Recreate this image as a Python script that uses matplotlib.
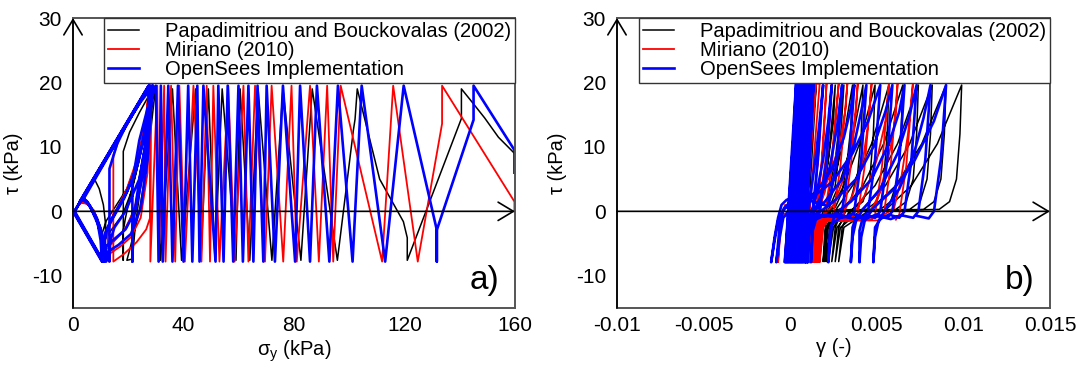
import matplotlib
matplotlib.use("Agg")
import matplotlib.pyplot as plt

plt.rcParams['font.family'] = ['Liberation Sans', 'DejaVu Sans']
plt.rcParams['mathtext.fontset'] = 'custom'
plt.rcParams['mathtext.rm'] = 'Liberation Sans'
plt.rcParams['axes.unicode_minus'] = False

labels = ["Papadimitriou and Bouckovalas (2002)", "Miriano (2010)", "OpenSees Implementation"]
colors = ["#000000", "#ff0000", "#0000ff"]

# ---------------- panel a : stress path (sigma_y, tau) ----------------
black_a = [(0, 0), (1.5, 0.6), (4, 2.6), (6.5, 4.3), (8, 4.8), (9.5, 3.5), (11, 1.0), (11.8, -2), (11.6, -7.6),
           (11.4, -4.5), (14, -2.8), (18, -0.5), (21.5, 3.5), (24.5, 9), (27, 15), (28.3, 19.0),
           (26.5, 14), (23.5, 8), (19.5, 3.5), (15, 0.5), (12, -1.5), (10.5, -3.5), (10.8, -7.6),
           (11.2, -5.5), (15, -4.5), (19.5, -2.5), (23, 1.5), (26, 8.5), (28.2, 15), (29.0, 19.0),
           (27, 14), (24, 8), (21, 3), (19, -1), (18.2, -3), (18.2, -7.6),
           (18.2, 9.3), (20.5, 12.3), (24, 15.3), (27.5, 18), (29.3, 19.0),
           (27, 12), (24.5, 4), (22.5, -2.5), (21.5, -7.4), (19.5, -7.6),
           (20.5, -6), (24, 0), (27, 8), (29.8, 19.0),
           (31.7, -7.6), (36, 19.0), (39.3, -7.6), (44.4, 19.0), (46.3, -7.6), (49, 19.0), (51.4, -7.6),
           (54, 19.0), (59, -7.6), (60.5, 19.0), (64, -7.6), (67, 19.0), (72, -7.6), (76, 19.0),
           (82.5, -7.6), (86.6, 19.0), (95.7, -7.6), (101.5, 12.6), (102.1, 14.3), (102.9, 19.0),
           (111, 5), (119.6, -1.6), (121, -4.1), (121, -7.6), (140.6, 14.4), (140.6, 19.0),
           (144, 17.2), (149, 14.5), (154, 11.5), (159.8, 9.0)]

red_a = [(0, 0), (10.5, -7.8),
         (10.2, -4.5), (9.3, -1.8), (7.5, 0.2), (5, 1.2), (3, 1.3), (1.8, 0.9), (27.3, 19.5),
         (1.3, 0.5), (0.5, 0), (10.4, -7.8),
         (10.1, -4), (8.8, -1.2), (6.5, 0.6), (4.2, 1.5), (2.4, 1.2), (27.5, 19.5),
         (1.2, 0.45), (0.6, 0), (10.6, -7.8),
         (10.3, -5), (9.6, -2.4), (8, -0.4), (5.5, 1.0), (3.4, 1.6), (27.4, 19.5),
         (26.8, 15.5), (25, 10.5), (22, 5.5), (18, 1.8), (14, -1), (11.5, -3.5), (10.8, -5), (11.2, -7.8),
         (11.5, -6), (14.5, -4.8), (18.5, -3), (22, 0), (25, 5.5), (27, 12.5), (27.7, 19.5),
         (26.2, 14), (23.5, 8.5), (19.5, 3.5), (16, 0.5), (13, -2), (12.5, -4), (13.0, -7.8),
         (13.5, -6.5), (17, -5.5), (21, -4), (24.5, -1), (27, 6), (28, 19.5),
         (27.9, -1), (26.5, -2.8), (23, -4.8), (18.5, -6.6), (14.6, -7.8),
         (14.6, 8.7), (17, 11.5), (21, 14.5), (25, 17.5), (28.2, 19.5),
         (28.0, -7.8), (30.5, 19.5), (31.0, -7.8), (33.0, 19.5), (33.5, -7.8), (35.5, 19.5), (37, -7.8),
         (38.5, 19.5), (40.5, -7.8), (43.6, 19.5), (46.5, -7.8), (48.4, 19.5), (49.6, -7.8), (50.8, 19.5),
         (53, -7.8), (56.2, 19.5), (58.5, -7.8), (61.7, 19.5), (63.5, -7.8), (65.9, 19.5), (69.5, -7.8),
         (71.9, 19.5), (76.1, -7.8), (79.1, 19.5), (81, -7.8), (85.8, 19.5), (89, -7.8), (92, 19.5),
         (94.2, -7.8), (96.9, 19.5), (111.9, -7.8), (115.9, 19.5), (124.8, -7.8), (133.6, 13.6),
         (133.6, 19.5), (159.8, 1.5), (159.8, 0)]

blue_a = [(0, 0), (10.5, -7.8),
          (10.0, -4.5), (9.0, -2.0), (7.0, 0.0), (5.0, 1.6), (3.5, 2.0), (2.3, 1.4), (27.4, 19.5),
          (1.2, 0.5), (0.4, -0.2), (10.7, -7.8),
          (10.3, -4), (8.5, -1.2), (6, 0.9), (4, 1.9), (2.6, 1.6), (27.6, 19.5),
          (1.3, 0.5), (0.5, -0.1), (10.9, -7.8),
          (10.6, -5), (9.8, -2.5), (8.0, -0.6), (5.5, 1.3), (3.2, 1.8), (27.8, 19.5),
          (1.4, 0.6), (0.6, 0), (11.0, -7.8),
          (10.8, -5.5), (10.2, -3), (8.6, -1), (6.2, 0.8), (3.8, 1.9), (27.5, 19.5),
          (27.2, 16), (25.5, 11), (22.5, 6), (18.5, 2), (14.5, -1), (11.5, -3.5), (10.8, -5), (11.4, -7.8),
          (11.8, -5.5), (15, -4.3), (19, -2.8), (22.5, 0), (25.5, 6), (27.5, 13), (28.3, 19.5),
          (26.5, 13.5), (23.5, 7.5), (19.5, 3), (15.5, 0), (12.5, -2.5), (11.5, -4.5), (12, -7.8),
          (12.5, -6.3), (16.5, -5.2), (21, -3.5), (24.5, 0.5), (27, 8), (28.8, 19.5),
          (27.5, 13), (24, 5), (19, 0), (15, -2.5), (13.5, -4.5), (13.2, -7.8),
          (13.2, 6.6), (16, 10.5), (20, 14), (24.5, 17), (29, 19.5),
          (26, 10), (23, 2), (21.5, -3), (21.5, -7.8),
          (21.5, 4.5), (24, 11), (27, 16), (30, 19.5),
          (31.0, -7.8), (31.8, 19.5), (32.5, -7.8), (34.5, 19.5), (36, -7.8), (38, 19.5), (40, -7.8),
          (41.7, 19.5), (43.2, -7.8), (45, 19.5), (45.8, -7.8), (47.2, 19.5), (51.6, -7.8), (52.6, 19.5),
          (54.5, -7.8), (56, 19.5), (58, -7.8), (59.9, 19.5), (61.5, -7.8), (63.5, 19.5), (65.3, -7.8),
          (66.8, 19.5), (68.9, -7.8), (70.1, 19.5), (73.1, -7.8), (76, 19.5), (80.4, -7.8), (82.2, 19.5),
          (85.8, -7.8), (88.3, 19.5), (92.8, -7.8), (95.9, 19.5), (101.2, -7.8), (104.5, 19.5),
          (113.0, -7.8), (119.7, 19.5), (131.7, -2.9), (131.7, -7.8), (131.7, -2.9), (145.0, 14.2),
          (145.0, 19.5), (159.8, 9.5), (159.8, 6.0)]

# ---------------- panel b : stress-strain (gamma, tau) ----------------
black_b = [(0.0, 0.0), (0.00035, 19.6), (-0.0001, -7.8), (0.0004, 19.6), (0.0000, -7.8), (0.0002, -2.0),
           (0.0005, 6.0), (0.0008, 19.6), (0.0004, -1.0), (0.0003, -7.8), (0.0005, -2.5), (0.0008, 2.0),
           (0.0012, 10.0), (0.0015, 19.6), (0.0012, 6.0), (0.0011, -1.0), (0.0010, -7.8),
           (0.0012, -2.5), (0.0015, 0.2), (0.0019, 2.5), (0.0022, 8.0), (0.0025, 14.0), (0.0026, 19.6),
           (0.0022, 8.0), (0.0018, 1.0), (0.0016, -1.5), (0.0014, -7.8),
           (0.0016, -2.5), (0.0019, 0.1), (0.0022, 1.0), (0.0026, 4.0), (0.0029, 11.0), (0.0031, 19.6),
           (0.0026, 8.0), (0.0021, 1.2), (0.0019, -1.0), (0.0017, -3.0), (0.0016, -7.8),
           (0.0018, -2.5), (0.0022, 0.1), (0.0026, 0.6), (0.0030, 3.0), (0.0033, 8.0), (0.0035, 13.0), (0.0036, 19.6),
           (0.0030, 10.0), (0.0024, 3.5), (0.0020, -0.8), (0.0018, -3.0), (0.0017, -7.8),
           (0.0019, -2.5), (0.0023, 0.0), (0.0030, 0.4), (0.0035, 1.8), (0.0039, 6.0), (0.0041, 12.0), (0.0042, 19.6),
           (0.0035, 10.0), (0.0028, 4.0), (0.0022, 0.2), (0.0020, -3.0), (0.0019, -7.8),
           (0.0021, -2.5), (0.0025, 0.0), (0.0036, 0.3), (0.0042, 1.5), (0.0046, 5.0), (0.0048, 12.0), (0.0049, 19.6),
           (0.0040, 10.5), (0.0031, 4.0), (0.0024, 0.5), (0.0021, -3.0), (0.0020, -7.8),
           (0.0022, -2.5), (0.0026, 0.0), (0.0044, 0.3), (0.0050, 1.5), (0.0054, 5.0), (0.0056, 12.0), (0.0057, 19.6),
           (0.0047, 10.5), (0.0036, 4.0), (0.0027, 0.5), (0.0023, -3.0), (0.0021, -7.8),
           (0.0023, -2.5), (0.0027, 0.0), (0.0052, 0.3), (0.0058, 1.5), (0.0062, 5.0), (0.0064, 12.0), (0.0065, 19.6),
           (0.0054, 10.5), (0.0042, 4.0), (0.0031, 0.4), (0.0025, -2.5), (0.0022, -7.8),
           (0.0024, -2.5), (0.0028, 0.0), (0.0061, 0.3), (0.0067, 1.5), (0.0071, 5.0), (0.0073, 12.0), (0.0074, 19.6),
           (0.0062, 10.5), (0.0049, 4.0), (0.0036, 0.3), (0.0027, -2.5), (0.0024, -7.8),
           (0.0026, -2.5), (0.0030, 0.0), (0.0069, 0.3), (0.0075, 1.5), (0.0079, 5.0), (0.0081, 12.0), (0.0082, 19.6),
           (0.0069, 10.5), (0.0055, 4.0), (0.0041, 0.2), (0.0029, -2.5), (0.0026, -7.8),
           (0.0028, -2.5), (0.0032, 0.0), (0.0077, 0.3), (0.0083, 1.5), (0.0087, 5.0), (0.0089, 12.0), (0.0090, 19.6),
           (0.0076, 10.5), (0.0061, 4.0), (0.0046, 0.2), (0.0031, -2.5), (0.0028, -7.8),
           (0.0030, -2.5), (0.0034, 0.0), (0.0086, 0.3), (0.0092, 1.5), (0.0096, 5.0), (0.0098, 12.0), (0.0099, 19.6),
           (0.0085, 10.5), (0.0070, 4.0), (0.0055, 0.2)]

red_b = [(0.0, 0.0), (0.00034, 19.8), (0.0006, 19.8), (-0.00035, -7.9), (-0.0001, -7.9), (0.0007, 19.8),
         (0.0010, 19.8), (0.0000, -7.9), (0.0003, -7.9), (0.0011, 19.8), (0.0014, 19.8), (0.0004, -7.9),
         (0.0007, -7.9), (0.0015, 19.8), (0.0017, 19.8), (0.0009, -7.9), (0.00113, -7.9), (0.0016, 8.0),
         (0.0019, 19.8),
         (0.0016, 8.0), (0.0013, 0.0), (0.0012, -1.3), (0.0011, -7.9),
         (0.0013, -2.0), (0.0015, 0.5), (0.0017, 4.0), (0.0019, 10.0), (0.0020, 15.0), (0.0021, 19.8),
         (0.0018, 7.0), (0.0015, -0.5), (0.0013, -1.5), (0.0012, -4.0), (0.0011, -7.9),
         (0.0013, -2.0), (0.0015, 0.5), (0.0018, 3.5), (0.0021, 9.0), (0.0023, 15.0), (0.0024, 19.8),
         (0.0021, 7.0), (0.0017, -0.5), (0.0014, -1.5), (0.0013, -4.0), (0.0012, -7.9),
         (0.0014, -2.0), (0.0016, 0.0), (0.0020, 3.0), (0.0024, 8.5), (0.0026, 14.0), (0.0028, 19.8),
         (0.0024, 7.0), (0.0020, -0.5), (0.0016, -1.0), (0.0005, 0.5), (-0.0003, 1.0), (-0.0005, -1.0), (-0.0007, -7.9),
         (-0.0006, -3.0), (-0.0004, -0.5), (0.0005, 0.8), (0.0015, 2.0), (0.0023, 5.5), (0.0029, 11.0), (0.0032, 16.0), (0.0033, 19.8),
         (0.0029, 7.0), (0.0025, -0.5), (0.0023, -1.2), (0.0016, -1.3), (0.0014, -3.0), (0.0013, -7.9),
         (0.0015, -2.5), (0.0018, -1.0), (0.0025, 1.0), (0.0030, 4.5), (0.0035, 10.0), (0.0038, 15.5), (0.0039, 19.8),
         (0.0035, 7.0), (0.0031, -0.5), (0.0029, -1.3), (0.0017, -1.3), (0.0015, -3.0), (0.0014, -7.9),
         (0.0016, -2.5), (0.0019, -1.2), (0.0030, -0.6), (0.0036, 2.5), (0.0042, 8.0), (0.0045, 13.5), (0.0047, 19.8),
         (0.0043, 7.0), (0.0039, -0.5), (0.0037, -1.3), (0.0018, -1.4), (0.0016, -3.0), (0.0015, -7.9),
         (0.0017, -2.5), (0.0020, -1.2), (0.0036, -0.8), (0.0043, 2.5), (0.0050, 8.0), (0.0055, 14.0), (0.0057, 19.8),
         (0.0053, 7.0), (0.0049, -0.5), (0.0047, -1.3), (0.0019, -1.5), (0.0017, -3.0), (0.0016, -7.9),
         (0.0018, -2.5), (0.0021, -1.3), (0.0045, -0.8), (0.0052, 3.0), (0.0058, 10.0), (0.0061, 15.0), (0.0062, 19.8),
         (0.0058, 7.0), (0.0054, -0.5), (0.0052, -1.4), (0.0020, -1.5), (0.0018, -3.0), (0.0017, -7.9),
         (0.0019, -2.5), (0.0022, -1.3), (0.0052, -0.9), (0.0060, 0.5), (0.0064, 5.0), (0.0068, 12.0), (0.0071, 20.3),
         (0.0067, 7.0), (0.0063, -0.5), (0.0061, -1.3)]

blue_b = [(0.0, 0.0),
          (0.00034, 19.8), (-0.00030, -7.9), (0.00040, 19.8), (-0.00024, -7.9), (0.00046, 19.8), (-0.00018, -7.9),
          (0.00052, 19.8), (-0.00012, -7.9), (0.00058, 19.8), (-0.00006, -7.9), (0.00064, 19.8), (0.00000, -7.9),
          (0.00070, 19.8), (0.00006, -7.9), (0.00076, 19.8), (0.00012, -7.9), (0.00082, 19.8), (0.00018, -7.9),
          (0.00088, 19.8), (0.00024, -7.9), (0.00094, 19.8), (0.00030, -7.9), (0.00100, 19.8), (0.00036, -7.9),
          (0.00106, 19.8), (0.00042, -7.9), (0.00112, 19.8), (0.00048, -7.9), (0.00118, 19.8), (0.00054, -7.9),
          (0.00124, 19.8), (0.00060, -7.9), (0.00128, 19.8), (0.00066, -7.9), (0.00131, 19.8), (0.00072, -7.9),
          (0.00133, 19.8), (0.00078, -7.9), (0.00134, 19.8), (0.00085, -7.9),
          (0.0009, -4.0), (0.0010, -1.0), (0.0012, 3.0), (0.0015, 9.0), (0.0017, 14.0), (0.0019, 19.6),
          (0.0016, 8.0), (0.0013, 0.0), (0.0011, -1.5), (0.0009, -7.9),
          (0.0010, -3.0), (0.0012, -0.5), (0.0015, 2.5), (0.0019, 8.0), (0.0022, 14.0), (0.0024, 19.6),
          (0.0021, 8.0), (0.0017, 0.2), (0.0014, -0.8), (0.0011, -3.0), (0.0010, -7.9),
          (0.0011, -3.0), (0.0013, -0.5), (0.0018, 2.5), (0.0023, 7.0), (0.0027, 13.0), (0.0030, 19.6),
          (0.0027, 8.0), (0.0022, 0.8), (0.0012, 1.6), (0.0002, 1.8), (-0.0002, 1.8), (-0.0005, 1.0),
          (-0.0007, -1.0), (-0.0009, -4.0), (-0.0011, -7.9),
          (-0.0009, -4.5), (-0.0007, -1.5), (-0.0003, 0.5), (0.0006, 1.5), (0.0015, 3.0), (0.0024, 6.5),
          (0.0031, 11.5), (0.0035, 16.0), (0.0037, 19.6),
          (0.0034, 8.0), (0.0030, 0.0), (0.0027, -0.8), (0.0015, -0.7), (0.0010, -1.5), (0.0009, -7.9),
          (0.0010, -3.0), (0.0012, -0.3), (0.0020, 1.5), (0.0030, 5.0), (0.0037, 10.5), (0.0041, 15.5), (0.0044, 19.6),
          (0.0041, 8.0), (0.0037, 0.0), (0.0034, -0.9), (0.0028, -0.5), (0.0015, -0.6), (0.0008, 0.8),
          (-0.0001, 1.2), (-0.0004, 0.3), (-0.0006, -2.0), (-0.0008, -7.9),
          (-0.0006, -4.0), (-0.0004, -1.0), (0.0002, 0.8), (0.0012, 2.0), (0.0024, 4.5), (0.0036, 9.0),
          (0.0045, 14.0), (0.0052, 19.6),
          (0.0049, 8.0), (0.0045, 0.0), (0.0042, -0.9), (0.0036, -0.4), (0.0030, -1.0), (0.0020, -0.6),
          (0.0013, -1.5), (0.0012, -7.9),
          (0.0013, -3.0), (0.0016, -0.3), (0.0025, 1.5), (0.0038, 5.0), (0.0048, 10.0), (0.0055, 15.5), (0.0059, 19.6),
          (0.0056, 8.0), (0.0052, 0.0), (0.0049, -1.0), (0.0044, -0.6), (0.0038, -1.2), (0.0030, -0.8),
          (0.0024, -2.0), (0.0022, -7.9),
          (0.0023, -3.0), (0.0026, -0.3), (0.0035, 1.5), (0.0047, 5.0), (0.0057, 10.5), (0.0063, 15.5), (0.0066, 19.6),
          (0.0063, 8.0), (0.0059, 0.0), (0.0056, -1.0), (0.0050, -0.5), (0.0044, -1.1), (0.0038, -0.9),
          (0.0036, -2.5), (0.0035, -7.9),
          (0.0036, -4.0), (0.0038, -1.5), (0.0042, 0.3), (0.0052, 3.5), (0.0062, 9.0), (0.0069, 15.0), (0.0073, 19.6),
          (0.0070, 8.0), (0.0066, 0.0), (0.0063, -1.0), (0.0057, -0.5), (0.0052, -1.2), (0.0049, -2.5), (0.0048, -7.9),
          (0.0049, -4.0), (0.0051, -1.5), (0.0055, 0.3), (0.0063, 3.5), (0.0071, 8.5), (0.0077, 14.5), (0.0081, 19.6),
          (0.0078, 8.0), (0.0074, 0.0), (0.0071, -1.0), (0.0064, -0.6), (0.0058, -1.2), (0.0050, -0.7),
          (0.0042, -0.9), (0.0040, -3.0), (0.0040, -7.9),
          (0.0041, -4.0), (0.0043, -1.5), (0.0048, 0.5), (0.0060, 3.5), (0.0072, 8.0), (0.0083, 14.0), (0.0090, 19.6),
          (0.0087, 8.0), (0.0083, 0.0), (0.0080, -1.1), (0.0073, -0.7)]

a_xticks = [0, 40, 80, 120, 160]
b_xticks = [-0.01, -0.005, 0, 0.005, 0.01, 0.015]
b_xticklabels = ["-0.01", "-0.005", "0", "0.005", "0.01", "0.015"]
yticks = [-10, 0, 10, 20, 30]

widths = [1.1, 1.3, 1.9]

fig = plt.figure(figsize=(10.86, 3.69), dpi=100)
axa = fig.add_axes([73 / 1086, 1 - 308 / 369, 442 / 1086, 290 / 369])
axb = fig.add_axes([617 / 1086, 1 - 308 / 369, 433 / 1086, 290 / 369])

def style(ax, xlim, xticks, xticklabels, xlabel, tag):
    ax.set_xlim(*xlim)
    ax.set_ylim(-15, 30)
    ax.set_xticks(xticks)
    ax.set_xticklabels(xticklabels)
    ax.set_yticks(yticks)
    ax.tick_params(axis='y', length=0, labelsize=15, pad=8)
    ax.tick_params(axis='x', length=0, labelsize=15, pad=6)
    for s in ax.spines.values():
        s.set_color('#555555')
        s.set_linewidth(1.4)
    ax.set_ylabel('τ (kPa)', fontsize=14.5, labelpad=6)
    ax.set_xlabel(xlabel, fontsize=14.5, labelpad=2)
    arrow = dict(arrowstyle='->,head_length=0.5,head_width=0.3', color='black', lw=1.2,
                 mutation_scale=22, shrinkA=0, shrinkB=0)
    ax.annotate('', xy=(xlim[0], 30), xytext=(xlim[0], -15), arrowprops=arrow,
                annotation_clip=False, zorder=6)
    ax.annotate('', xy=(xlim[1], 0), xytext=(xlim[0], 0), arrowprops=arrow,
                annotation_clip=False, zorder=6)
    ax.text(0.965, 0.095, tag, transform=ax.transAxes, fontsize=24, ha='right', va='center')
    leg = ax.legend(loc='upper right', fontsize=14.5, frameon=True, fancybox=False,
                    borderaxespad=0, borderpad=0.2, labelspacing=0.0, handlelength=1.5,
                    handletextpad=1.3, framealpha=1)
    leg.get_frame().set_edgecolor('#333333')
    leg.get_frame().set_linewidth(1.0)

for data, c, lw, lab in zip([black_a, red_a, blue_a], colors, widths, labels):
    xs, ys = zip(*data)
    axa.plot(xs, ys, color=c, lw=lw, label=lab, solid_joinstyle='round')
for data, c, lw, lab in zip([black_b, red_b, blue_b], colors, widths, labels):
    xs, ys = zip(*data)
    axb.plot(xs, ys, color=c, lw=lw, label=lab, solid_joinstyle='round')

style(axa, (0, 160), a_xticks, [str(t) for t in a_xticks], 'σ$_{\\mathregular{y}}$ (kPa)', 'a)')
style(axb, (-0.01, 0.015), b_xticks, b_xticklabels, 'γ (-)', 'b)')

fig.savefig('out.png', dpi=100)
